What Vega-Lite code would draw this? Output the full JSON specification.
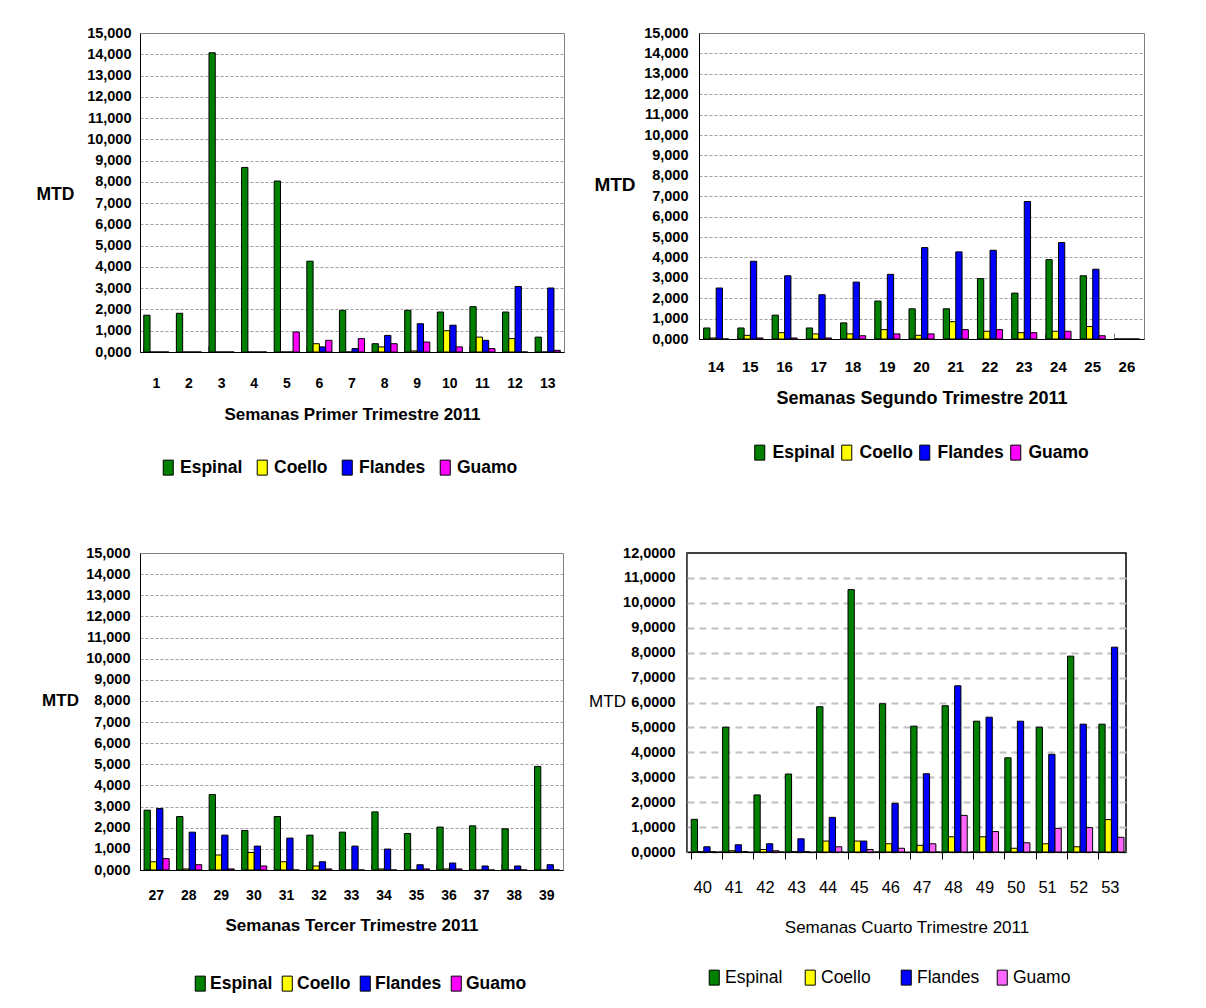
{
  "$schema": "https://vega.github.io/schema/vega-lite/v6.json",
  "padding": {"left": 35, "top": 24, "right": 0, "bottom": 0},
  "background": "white",
  "config": {
    "font": "Liberation Sans",
    "axis": {"labelColor": "#000", "titleColor": "#000"},
    "legend": {"labelColor": "#000"}
  },
  "datasets": {
    "mtd": [
      {"q":1,"week":1,"site":"Espinal","mtd":1.73},{"q":1,"week":1,"site":"Coello","mtd":0},{"q":1,"week":1,"site":"Flandes","mtd":0},{"q":1,"week":1,"site":"Guamo","mtd":0},
      {"q":1,"week":2,"site":"Espinal","mtd":1.82},{"q":1,"week":2,"site":"Coello","mtd":0},{"q":1,"week":2,"site":"Flandes","mtd":0},{"q":1,"week":2,"site":"Guamo","mtd":0},
      {"q":1,"week":3,"site":"Espinal","mtd":14.07},{"q":1,"week":3,"site":"Coello","mtd":0},{"q":1,"week":3,"site":"Flandes","mtd":0},{"q":1,"week":3,"site":"Guamo","mtd":0},
      {"q":1,"week":4,"site":"Espinal","mtd":8.68},{"q":1,"week":4,"site":"Coello","mtd":0},{"q":1,"week":4,"site":"Flandes","mtd":0},{"q":1,"week":4,"site":"Guamo","mtd":0},
      {"q":1,"week":5,"site":"Espinal","mtd":8.04},{"q":1,"week":5,"site":"Coello","mtd":0},{"q":1,"week":5,"site":"Flandes","mtd":0},{"q":1,"week":5,"site":"Guamo","mtd":0.94},
      {"q":1,"week":6,"site":"Espinal","mtd":4.27},{"q":1,"week":6,"site":"Coello","mtd":0.39},{"q":1,"week":6,"site":"Flandes","mtd":0.24},{"q":1,"week":6,"site":"Guamo","mtd":0.55},
      {"q":1,"week":7,"site":"Espinal","mtd":1.96},{"q":1,"week":7,"site":"Coello","mtd":0},{"q":1,"week":7,"site":"Flandes","mtd":0.16},{"q":1,"week":7,"site":"Guamo","mtd":0.63},
      {"q":1,"week":8,"site":"Espinal","mtd":0.39},{"q":1,"week":8,"site":"Coello","mtd":0.24},{"q":1,"week":8,"site":"Flandes","mtd":0.78},{"q":1,"week":8,"site":"Guamo","mtd":0.39},
      {"q":1,"week":9,"site":"Espinal","mtd":1.96},{"q":1,"week":9,"site":"Coello","mtd":0.05},{"q":1,"week":9,"site":"Flandes","mtd":1.33},{"q":1,"week":9,"site":"Guamo","mtd":0.47},
      {"q":1,"week":10,"site":"Espinal","mtd":1.88},{"q":1,"week":10,"site":"Coello","mtd":1.0},{"q":1,"week":10,"site":"Flandes","mtd":1.26},{"q":1,"week":10,"site":"Guamo","mtd":0.24},
      {"q":1,"week":11,"site":"Espinal","mtd":2.13},{"q":1,"week":11,"site":"Coello","mtd":0.7},{"q":1,"week":11,"site":"Flandes","mtd":0.55},{"q":1,"week":11,"site":"Guamo","mtd":0.16},
      {"q":1,"week":12,"site":"Espinal","mtd":1.88},{"q":1,"week":12,"site":"Coello","mtd":0.63},{"q":1,"week":12,"site":"Flandes","mtd":3.08},{"q":1,"week":12,"site":"Guamo","mtd":0},
      {"q":1,"week":13,"site":"Espinal","mtd":0.7},{"q":1,"week":13,"site":"Coello","mtd":0},{"q":1,"week":13,"site":"Flandes","mtd":3.01},{"q":1,"week":13,"site":"Guamo","mtd":0.08},

      {"q":2,"week":14,"site":"Espinal","mtd":0.54},{"q":2,"week":14,"site":"Coello","mtd":0.05},{"q":2,"week":14,"site":"Flandes","mtd":2.5},{"q":2,"week":14,"site":"Guamo","mtd":0},
      {"q":2,"week":15,"site":"Espinal","mtd":0.54},{"q":2,"week":15,"site":"Coello","mtd":0.18},{"q":2,"week":15,"site":"Flandes","mtd":3.81},{"q":2,"week":15,"site":"Guamo","mtd":0.05},
      {"q":2,"week":16,"site":"Espinal","mtd":1.17},{"q":2,"week":16,"site":"Coello","mtd":0.31},{"q":2,"week":16,"site":"Flandes","mtd":3.1},{"q":2,"week":16,"site":"Guamo","mtd":0.05},
      {"q":2,"week":17,"site":"Espinal","mtd":0.54},{"q":2,"week":17,"site":"Coello","mtd":0.25},{"q":2,"week":17,"site":"Flandes","mtd":2.17},{"q":2,"week":17,"site":"Guamo","mtd":0.05},
      {"q":2,"week":18,"site":"Espinal","mtd":0.79},{"q":2,"week":18,"site":"Coello","mtd":0.25},{"q":2,"week":18,"site":"Flandes","mtd":2.79},{"q":2,"week":18,"site":"Guamo","mtd":0.16},
      {"q":2,"week":19,"site":"Espinal","mtd":1.86},{"q":2,"week":19,"site":"Coello","mtd":0.46},{"q":2,"week":19,"site":"Flandes","mtd":3.17},{"q":2,"week":19,"site":"Guamo","mtd":0.25},
      {"q":2,"week":20,"site":"Espinal","mtd":1.48},{"q":2,"week":20,"site":"Coello","mtd":0.18},{"q":2,"week":20,"site":"Flandes","mtd":4.48},{"q":2,"week":20,"site":"Guamo","mtd":0.25},
      {"q":2,"week":21,"site":"Espinal","mtd":1.48},{"q":2,"week":21,"site":"Coello","mtd":0.85},{"q":2,"week":21,"site":"Flandes","mtd":4.27},{"q":2,"week":21,"site":"Guamo","mtd":0.46},
      {"q":2,"week":22,"site":"Espinal","mtd":2.96},{"q":2,"week":22,"site":"Coello","mtd":0.38},{"q":2,"week":22,"site":"Flandes","mtd":4.35},{"q":2,"week":22,"site":"Guamo","mtd":0.46},
      {"q":2,"week":23,"site":"Espinal","mtd":2.25},{"q":2,"week":23,"site":"Coello","mtd":0.31},{"q":2,"week":23,"site":"Flandes","mtd":6.74},{"q":2,"week":23,"site":"Guamo","mtd":0.31},
      {"q":2,"week":24,"site":"Espinal","mtd":3.89},{"q":2,"week":24,"site":"Coello","mtd":0.38},{"q":2,"week":24,"site":"Flandes","mtd":4.73},{"q":2,"week":24,"site":"Guamo","mtd":0.38},
      {"q":2,"week":25,"site":"Espinal","mtd":3.1},{"q":2,"week":25,"site":"Coello","mtd":0.61},{"q":2,"week":25,"site":"Flandes","mtd":3.42},{"q":2,"week":25,"site":"Guamo","mtd":0.16},
      {"q":2,"week":26,"site":"Espinal","mtd":0},{"q":2,"week":26,"site":"Coello","mtd":0},{"q":2,"week":26,"site":"Flandes","mtd":0},{"q":2,"week":26,"site":"Guamo","mtd":0},

      {"q":3,"week":27,"site":"Espinal","mtd":2.83},{"q":3,"week":27,"site":"Coello","mtd":0.39},{"q":3,"week":27,"site":"Flandes","mtd":2.91},{"q":3,"week":27,"site":"Guamo","mtd":0.54},
      {"q":3,"week":28,"site":"Espinal","mtd":2.53},{"q":3,"week":28,"site":"Coello","mtd":0.05},{"q":3,"week":28,"site":"Flandes","mtd":1.79},{"q":3,"week":28,"site":"Guamo","mtd":0.25},
      {"q":3,"week":29,"site":"Espinal","mtd":3.57},{"q":3,"week":29,"site":"Coello","mtd":0.71},{"q":3,"week":29,"site":"Flandes","mtd":1.65},{"q":3,"week":29,"site":"Guamo","mtd":0.05},
      {"q":3,"week":30,"site":"Espinal","mtd":1.87},{"q":3,"week":30,"site":"Coello","mtd":0.83},{"q":3,"week":30,"site":"Flandes","mtd":1.13},{"q":3,"week":30,"site":"Guamo","mtd":0.19},
      {"q":3,"week":31,"site":"Espinal","mtd":2.53},{"q":3,"week":31,"site":"Coello","mtd":0.39},{"q":3,"week":31,"site":"Flandes","mtd":1.51},{"q":3,"week":31,"site":"Guamo","mtd":0},
      {"q":3,"week":32,"site":"Espinal","mtd":1.65},{"q":3,"week":32,"site":"Coello","mtd":0.19},{"q":3,"week":32,"site":"Flandes","mtd":0.39},{"q":3,"week":32,"site":"Guamo","mtd":0.05},
      {"q":3,"week":33,"site":"Espinal","mtd":1.79},{"q":3,"week":33,"site":"Coello","mtd":0},{"q":3,"week":33,"site":"Flandes","mtd":1.13},{"q":3,"week":33,"site":"Guamo","mtd":0},
      {"q":3,"week":34,"site":"Espinal","mtd":2.75},{"q":3,"week":34,"site":"Coello","mtd":0.05},{"q":3,"week":34,"site":"Flandes","mtd":0.99},{"q":3,"week":34,"site":"Guamo","mtd":0},
      {"q":3,"week":35,"site":"Espinal","mtd":1.73},{"q":3,"week":35,"site":"Coello","mtd":0},{"q":3,"week":35,"site":"Flandes","mtd":0.25},{"q":3,"week":35,"site":"Guamo","mtd":0.05},
      {"q":3,"week":36,"site":"Espinal","mtd":2.03},{"q":3,"week":36,"site":"Coello","mtd":0.05},{"q":3,"week":36,"site":"Flandes","mtd":0.33},{"q":3,"week":36,"site":"Guamo","mtd":0.05},
      {"q":3,"week":37,"site":"Espinal","mtd":2.09},{"q":3,"week":37,"site":"Coello","mtd":0},{"q":3,"week":37,"site":"Flandes","mtd":0.19},{"q":3,"week":37,"site":"Guamo","mtd":0},
      {"q":3,"week":38,"site":"Espinal","mtd":1.95},{"q":3,"week":38,"site":"Coello","mtd":0},{"q":3,"week":38,"site":"Flandes","mtd":0.19},{"q":3,"week":38,"site":"Guamo","mtd":0},
      {"q":3,"week":39,"site":"Espinal","mtd":4.9},{"q":3,"week":39,"site":"Coello","mtd":0},{"q":3,"week":39,"site":"Flandes","mtd":0.25},{"q":3,"week":39,"site":"Guamo","mtd":0},

      {"q":4,"week":40,"site":"Espinal","mtd":1.31},{"q":4,"week":40,"site":"Coello","mtd":0},{"q":4,"week":40,"site":"Flandes","mtd":0.21},{"q":4,"week":40,"site":"Guamo","mtd":0},
      {"q":4,"week":41,"site":"Espinal","mtd":5.01},{"q":4,"week":41,"site":"Coello","mtd":0.05},{"q":4,"week":41,"site":"Flandes","mtd":0.29},{"q":4,"week":41,"site":"Guamo","mtd":0},
      {"q":4,"week":42,"site":"Espinal","mtd":2.29},{"q":4,"week":42,"site":"Coello","mtd":0.1},{"q":4,"week":42,"site":"Flandes","mtd":0.33},{"q":4,"week":42,"site":"Guamo","mtd":0.05},
      {"q":4,"week":43,"site":"Espinal","mtd":3.13},{"q":4,"week":43,"site":"Coello","mtd":0},{"q":4,"week":43,"site":"Flandes","mtd":0.53},{"q":4,"week":43,"site":"Guamo","mtd":0},
      {"q":4,"week":44,"site":"Espinal","mtd":5.83},{"q":4,"week":44,"site":"Coello","mtd":0.44},{"q":4,"week":44,"site":"Flandes","mtd":1.39},{"q":4,"week":44,"site":"Guamo","mtd":0.21},
      {"q":4,"week":45,"site":"Espinal","mtd":10.53},{"q":4,"week":45,"site":"Coello","mtd":0.44},{"q":4,"week":45,"site":"Flandes","mtd":0.44},{"q":4,"week":45,"site":"Guamo","mtd":0.1},
      {"q":4,"week":46,"site":"Espinal","mtd":5.95},{"q":4,"week":46,"site":"Coello","mtd":0.33},{"q":4,"week":46,"site":"Flandes","mtd":1.95},{"q":4,"week":46,"site":"Guamo","mtd":0.15},
      {"q":4,"week":47,"site":"Espinal","mtd":5.05},{"q":4,"week":47,"site":"Coello","mtd":0.27},{"q":4,"week":47,"site":"Flandes","mtd":3.14},{"q":4,"week":47,"site":"Guamo","mtd":0.33},
      {"q":4,"week":48,"site":"Espinal","mtd":5.87},{"q":4,"week":48,"site":"Coello","mtd":0.61},{"q":4,"week":48,"site":"Flandes","mtd":6.67},{"q":4,"week":48,"site":"Guamo","mtd":1.47},
      {"q":4,"week":49,"site":"Espinal","mtd":5.25},{"q":4,"week":49,"site":"Coello","mtd":0.61},{"q":4,"week":49,"site":"Flandes","mtd":5.41},{"q":4,"week":49,"site":"Guamo","mtd":0.82},
      {"q":4,"week":50,"site":"Espinal","mtd":3.78},{"q":4,"week":50,"site":"Coello","mtd":0.15},{"q":4,"week":50,"site":"Flandes","mtd":5.25},{"q":4,"week":50,"site":"Guamo","mtd":0.37},
      {"q":4,"week":51,"site":"Espinal","mtd":5.01},{"q":4,"week":51,"site":"Coello","mtd":0.33},{"q":4,"week":51,"site":"Flandes","mtd":3.92},{"q":4,"week":51,"site":"Guamo","mtd":0.95},
      {"q":4,"week":52,"site":"Espinal","mtd":7.86},{"q":4,"week":52,"site":"Coello","mtd":0.21},{"q":4,"week":52,"site":"Flandes","mtd":5.13},{"q":4,"week":52,"site":"Guamo","mtd":0.98},
      {"q":4,"week":53,"site":"Espinal","mtd":5.13},{"q":4,"week":53,"site":"Coello","mtd":1.3},{"q":4,"week":53,"site":"Flandes","mtd":8.22},{"q":4,"week":53,"site":"Guamo","mtd":0.59}
    ]
  },
  "resolve": {"scale": {"color": "independent"}, "legend": {"color": "independent"}},
  "spacing": 66,
  "vconcat": [
    {
      "spacing": 28,
      "resolve": {"scale": {"color": "independent"}, "legend": {"color": "independent"}},
      "hconcat": [
        {
          "width": 424, "height": 319,
          "data": {"name": "mtd"},
          "transform": [{"filter": "datum.q == 1"}],
          "view": {"stroke": "#808080"},
          "mark": {"type": "bar", "stroke": "#000", "strokeWidth": 1},
          "encoding": {
            "x": {"field": "week", "type": "ordinal",
              "scale": {"domain": [1,2,3,4,5,6,7,8,9,10,11,12,13], "paddingInner": 0.23, "paddingOuter": 0.115},
              "axis": {"title": "Semanas Primer Trimestre 2011", "labelAngle": 0, "labelFontSize": 14, "labelFontWeight": "bold", "labelPadding": 30,
                "titleFontSize": 17, "titleFontWeight": "bold", "titleY": 62, "titleBaseline": "middle",
                "domainColor": "#000", "tickColor": "#808080", "tickSize": -6, "bandPosition": 0, "grid": false}},
            "xOffset": {"field": "site", "scale": {"domain": ["Espinal","Coello","Flandes","Guamo"]}},
            "y": {"field": "mtd", "type": "quantitative", "scale": {"domain": [0, 15], "nice": false},
              "axis": {"title": "MTD", "titleAngle": 0, "titleX": -85, "titleY": 161, "titleAlign": "center", "titleBaseline": "middle", "titleFontSize": 17.5, "titleFontWeight": "bold",
                "values": [0,1,2,3,4,5,6,7,8,9,10,11,12,13,14,15], "labelExpr": "replace(format(datum.value, '.3f'), '.', ',')",
                "labelFontSize": 14.5, "labelFontWeight": "bold", "labelOverlap": false, "labelPadding": 9, "ticks": false,
                "domainColor": "#000", "gridColor": "#a0a0a0", "gridDash": [3, 2], "gridWidth": 1,
                "gridOpacity": {"condition": {"test": "datum.value == 15", "value": 0}, "value": 1}}},
            "color": {"field": "site", "type": "nominal",
              "scale": {"domain": ["Espinal","Coello","Flandes","Guamo"], "range": ["#008000","#ffff00","#0000ff","#ff00ff"]},
              "legend": {"orient": "none", "legendX": 19.5, "legendY": 425.5, "direction": "horizontal", "title": null,
                "symbolType": "M-0.67,-1H0.67V1H-0.67Z", "symbolSize": 225, "symbolStrokeColor": "#000", "symbolStrokeWidth": 1, "symbolOpacity": 1,
                "labelFontSize": 17.5, "labelFontWeight": "bold", "columnPadding": 11, "labelOffset": 3}}
          }
        },
        {
          "width": 445, "height": 306,
          "data": {"name": "mtd"},
          "transform": [{"filter": "datum.q == 2"}],
          "view": {"stroke": "#808080"},
          "mark": {"type": "bar", "stroke": "#000", "strokeWidth": 1},
          "encoding": {
            "x": {"field": "week", "type": "ordinal",
              "scale": {"domain": [14,15,16,17,18,19,20,21,22,23,24,25,26], "paddingInner": 0.27, "paddingOuter": 0.135},
              "axis": {"title": "Semanas Segundo Trimestre 2011", "labelAngle": 0, "labelFontSize": 15, "labelFontWeight": "bold", "labelPadding": 26,
                "titleFontSize": 18, "titleFontWeight": "bold", "titleY": 59, "titleBaseline": "middle",
                "domainColor": "#000", "tickColor": "#808080", "tickSize": -6, "bandPosition": 0, "grid": false}},
            "xOffset": {"field": "site", "scale": {"domain": ["Espinal","Coello","Flandes","Guamo"]}},
            "y": {"field": "mtd", "type": "quantitative", "scale": {"domain": [0, 15], "nice": false},
              "axis": {"title": "MTD", "titleAngle": 0, "titleX": -84.5, "titleY": 151, "titleAlign": "center", "titleBaseline": "middle", "titleFontSize": 19, "titleFontWeight": "bold",
                "values": [0,1,2,3,4,5,6,7,8,9,10,11,12,13,14,15], "labelExpr": "replace(format(datum.value, '.3f'), '.', ',')",
                "labelFontSize": 14.5, "labelFontWeight": "bold", "labelOverlap": false, "labelPadding": 11, "ticks": false,
                "domainColor": "#000", "gridColor": "#a0a0a0", "gridDash": [3, 2], "gridWidth": 1,
                "gridOpacity": {"condition": {"test": "datum.value == 15", "value": 0}, "value": 1}}},
            "color": {"field": "site", "type": "nominal",
              "scale": {"domain": ["Espinal","Coello","Flandes","Guamo"], "range": ["#008000","#ffff00","#0000ff","#ff00ff"]},
              "legend": {"orient": "none", "legendX": 52, "legendY": 410.5, "direction": "horizontal", "title": null,
                "symbolType": "M-0.67,-1H0.67V1H-0.67Z", "symbolSize": 225, "symbolStrokeColor": "#000", "symbolStrokeWidth": 1, "symbolOpacity": 1,
                "labelFontSize": 17.5, "labelFontWeight": "bold", "columnPadding": 3, "labelOffset": 4}}
          }
        }
      ]
    },
    {
      "spacing": 23,
      "resolve": {"scale": {"color": "independent"}, "legend": {"color": "independent"}},
      "hconcat": [
        {
          "width": 423, "height": 317,
          "data": {"name": "mtd"},
          "transform": [{"filter": "datum.q == 3"}],
          "view": {"stroke": "#808080"},
          "mark": {"type": "bar", "stroke": "#000", "strokeWidth": 1},
          "encoding": {
            "x": {"field": "week", "type": "ordinal",
              "scale": {"domain": [27,28,29,30,31,32,33,34,35,36,37,38,39], "paddingInner": 0.25, "paddingOuter": 0.125},
              "axis": {"title": "Semanas Tercer Trimestre 2011", "labelAngle": 0, "labelFontSize": 14, "labelFontWeight": "bold", "labelPadding": 24,
                "titleFontSize": 17, "titleFontWeight": "bold", "titleY": 55, "titleBaseline": "middle",
                "domainColor": "#000", "tickColor": "#808080", "tickSize": -6, "bandPosition": 0, "grid": false}},
            "xOffset": {"field": "site", "scale": {"domain": ["Espinal","Coello","Flandes","Guamo"]}},
            "y": {"field": "mtd", "type": "quantitative", "scale": {"domain": [0, 15], "nice": false},
              "axis": {"title": "MTD", "titleAngle": 0, "titleX": -80, "titleY": 147, "titleAlign": "center", "titleBaseline": "middle", "titleFontSize": 17, "titleFontWeight": "bold",
                "values": [0,1,2,3,4,5,6,7,8,9,10,11,12,13,14,15], "labelExpr": "replace(format(datum.value, '.3f'), '.', ',')",
                "labelFontSize": 14.5, "labelFontWeight": "bold", "labelOverlap": false, "labelPadding": 10, "ticks": false,
                "domainColor": "#000", "gridColor": "#a0a0a0", "gridDash": [3, 2], "gridWidth": 1,
                "gridOpacity": {"condition": {"test": "datum.value == 15", "value": 0}, "value": 1}}},
            "color": {"field": "site", "type": "nominal",
              "scale": {"domain": ["Espinal","Coello","Flandes","Guamo"], "range": ["#008000","#ffff00","#0000ff","#ff00ff"]},
              "legend": {"orient": "none", "legendX": 51.5, "legendY": 421.5, "direction": "horizontal", "title": null,
                "symbolType": "M-0.67,-1H0.67V1H-0.67Z", "symbolSize": 225, "symbolStrokeColor": "#000", "symbolStrokeWidth": 1, "symbolOpacity": 1,
                "labelFontSize": 17.5, "labelFontWeight": "bold", "columnPadding": 6, "labelOffset": 1}}
          }
        },
        {
          "width": 439, "height": 299,
          "data": {"name": "mtd"},
          "transform": [{"filter": "datum.q == 4"}],
          "view": {"stroke": "#000", "strokeWidth": 1.5},
          "mark": {"type": "bar", "stroke": "#000", "strokeWidth": 1},
          "encoding": {
            "x": {"field": "week", "type": "ordinal",
              "scale": {"domain": [40,41,42,43,44,45,46,47,48,49,50,51,52,53], "paddingInner": 0.27, "paddingOuter": 0.135},
              "axis": {"title": "Semanas Cuarto Trimestre 2011", "labelAngle": 0, "labelFontSize": 16.5, "labelFontWeight": "normal", "labelPadding": 20,
                "titleFontSize": 17, "titleFontWeight": "normal", "titleY": 75, "titleBaseline": "middle",
                "domainColor": "#000", "tickColor": "#000", "tickSize": 7, "bandPosition": 0, "grid": false}},
            "xOffset": {"field": "site", "scale": {"domain": ["Espinal","Coello","Flandes","Guamo"]}},
            "y": {"field": "mtd", "type": "quantitative", "scale": {"domain": [0, 12], "nice": false},
              "axis": {"title": "MTD", "titleAngle": 0, "titleX": -80, "titleY": 148, "titleAlign": "center", "titleBaseline": "middle", "titleFontSize": 17, "titleFontWeight": "normal",
                "values": [0,1,2,3,4,5,6,7,8,9,10,11,12], "labelExpr": "replace(format(datum.value, '.4f'), '.', ',')",
                "labelFontSize": 14.5, "labelFontWeight": "bold", "labelOverlap": false, "labelPadding": 12, "ticks": false,
                "domainColor": "#808080", "domainDash": [1, 1], "gridColor": "#c0c0c0", "gridDash": [7, 5], "gridWidth": 2,
                "gridOpacity": {"condition": {"test": "datum.value == 12", "value": 0}, "value": 1}}},
            "color": {"field": "site", "type": "nominal",
              "scale": {"domain": ["Espinal","Coello","Flandes","Guamo"], "range": ["#008000","#ffff00","#0000ff","#ff66ff"]},
              "legend": {"orient": "none", "legendX": 18.5, "legendY": 415.5, "direction": "horizontal", "title": null, "columns": 4, "gridAlign": "all",
                "symbolType": "M-0.67,-1H0.67V1H-0.67Z", "symbolSize": 225, "symbolStrokeColor": "#000", "symbolStrokeWidth": 1, "symbolOpacity": 1,
                "labelFontSize": 17.5, "labelFontWeight": "normal", "columnPadding": 14, "labelOffset": 2}}
          }
        }
      ]
    }
  ]
}
